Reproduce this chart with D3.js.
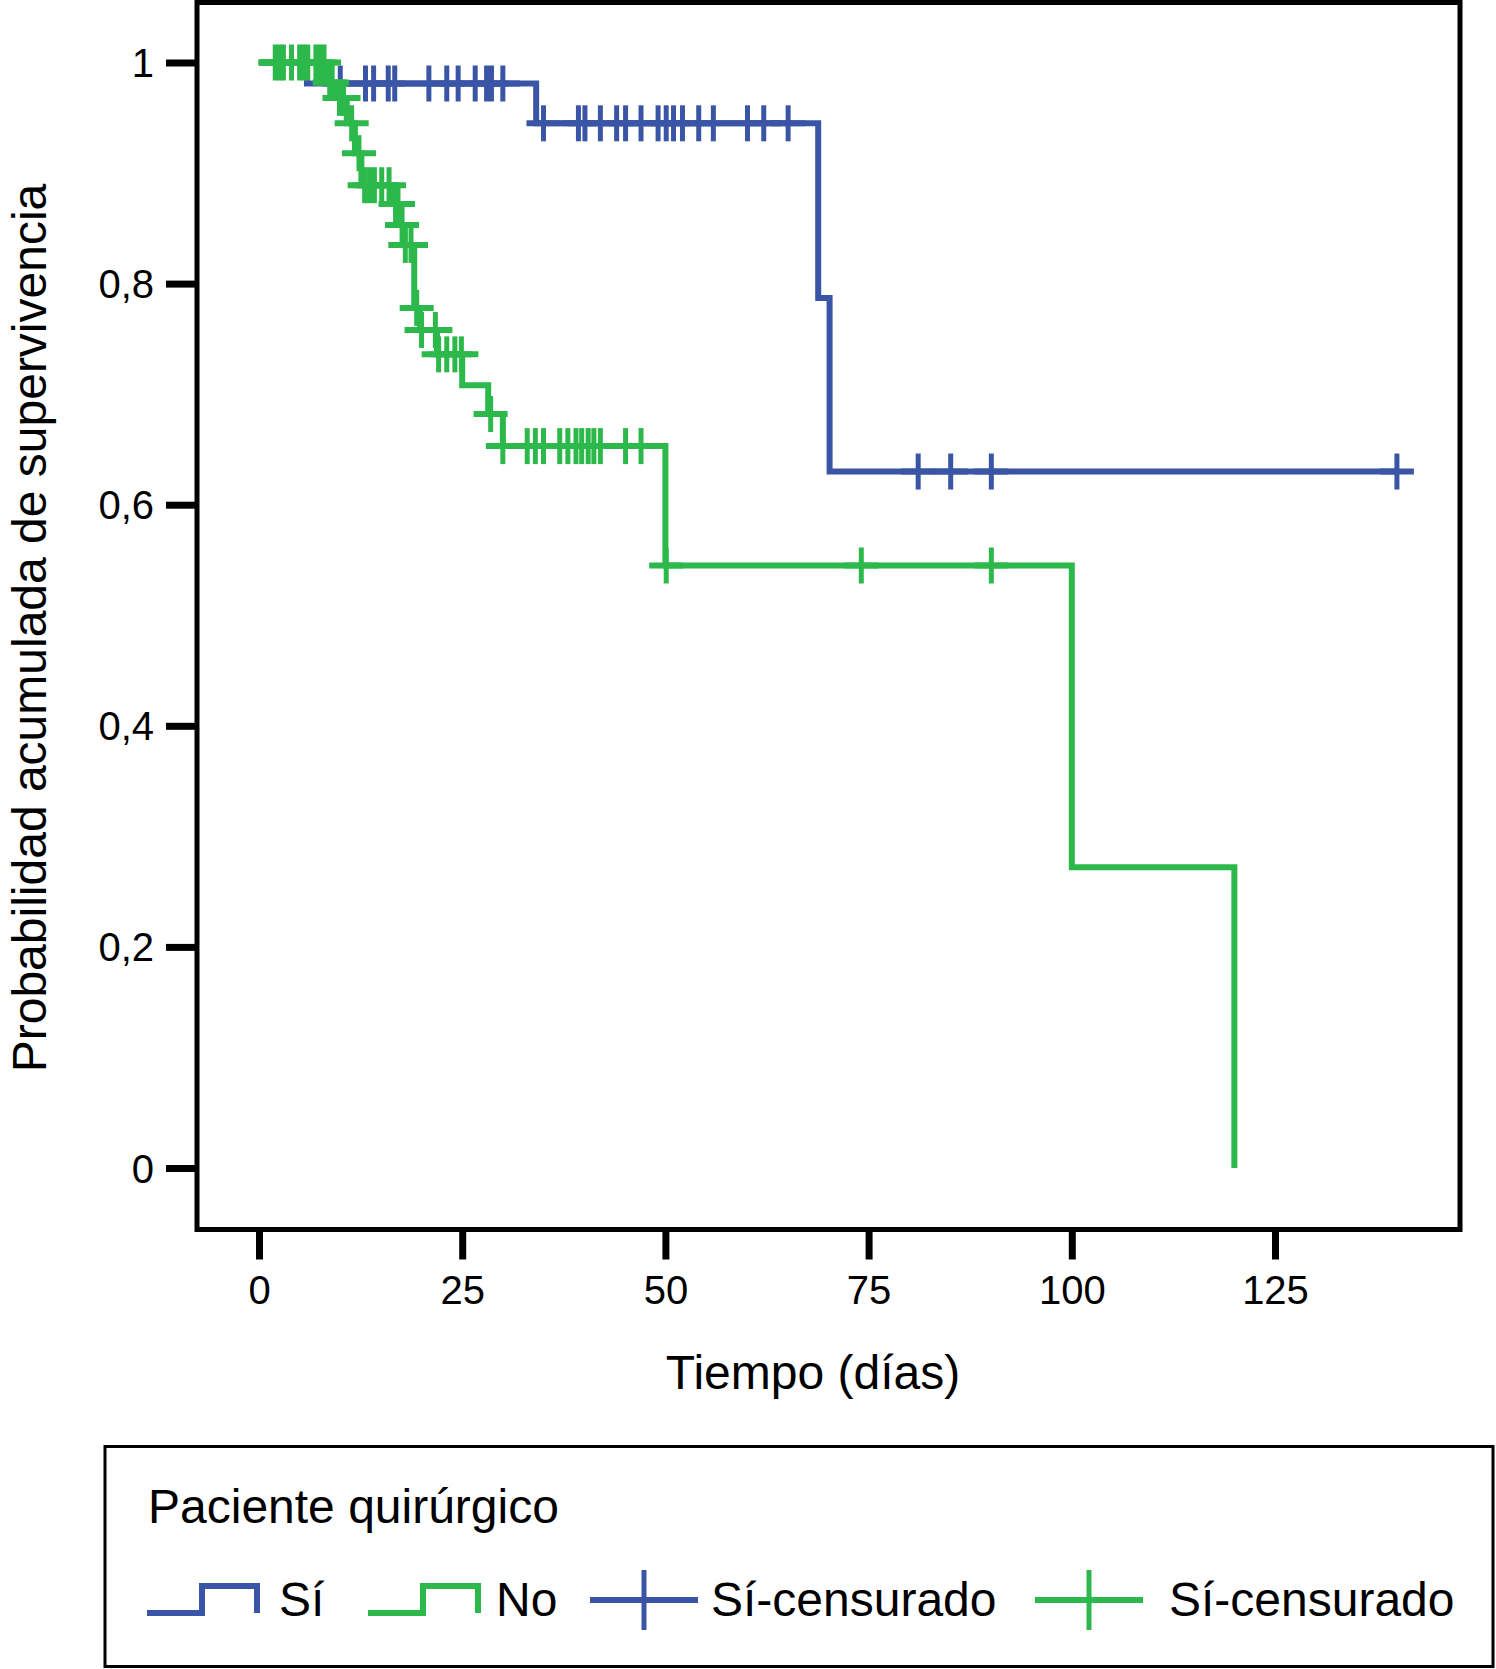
<!DOCTYPE html>
<html>
<head>
<meta charset="utf-8">
<script src="https://cdn.jsdelivr.net/npm/d3@7"></script>
<style>
  html, body { margin: 0; padding: 0; background: #fff; }
  svg { display: block; }
  text { font-family: "Liberation Sans", Arial, Helvetica, sans-serif; fill: #000; }
</style>
</head>
<body>
<svg id="chart" width="1496" height="1669"></svg>
<script>
// ---------- data ----------
const xTicks = [0, 25, 50, 75, 100, 125];
const xTickLabels = ["0", "25", "50", "75", "100", "125"];
const yTicks = [0, 0.2, 0.4, 0.6, 0.8, 1];
const yTickLabels = ["0", "0,2", "0,4", "0,6", "0,8", "1"];

// Group "Sí" (blue): step times and survival after each step
const siTimes = [0, 5.9, 34.1, 68.8, 70.2];
const siSurv  = [1, 0.981, 0.945, 0.787, 0.630];
const siCensor = [10.0, 13.1, 14.1, 15.9, 16.7, 20.9, 23.1, 24.5, 26.6, 28.0, 28.6, 30.0,
                  35.0, 39.3, 40.1, 42.0, 44.0, 45.1, 47.0, 49.1, 50.1, 51.0, 52.1, 54.1, 55.9, 60.1, 62.1, 65.1,
                  81.1, 85.1, 90.1, 140.0];

// Group "No" (green)
const noTimes = [0, 8.4, 9.4, 10.8, 11.8, 12.6, 16.5, 17.3, 17.9, 19.1, 19.8, 21.9, 25.0, 28.2, 30.0, 50.0, 100.0, 120.0];
const noSurv  = [1, 0.982, 0.968, 0.945, 0.918, 0.889, 0.872, 0.853, 0.835, 0.778, 0.758, 0.736, 0.708, 0.682, 0.653, 0.545, 0.272, 0];
const noCensor = [2.0, 2.5, 3.0, 4.0, 5.0, 5.5, 6.0, 7.0, 7.5, 8.0,
                  8.7, 9.0, 9.9, 10.4, 11.4, 12.3, 13.0, 13.6, 14.2, 15.1, 16.0, 16.8, 17.1, 17.6, 18.0, 18.7,
                  19.4, 20.0, 21.7, 22.1, 23.1, 24.1, 24.9, 28.5,
                  30.0, 33.0, 34.0, 35.0, 37.0, 38.0, 39.0, 39.7, 40.5, 41.2, 42.0, 45.1, 47.0,
                  50.1, 74.1, 90.1];

const legendTitle = "Paciente quirúrgico";
const legendItems = ["Sí", "No", "Sí-censurado", "Sí-censurado"];
const xTitle = "Tiempo (días)";
const yTitle = "Probabilidad acumulada de supervivencia";

// ---------- styles ----------
const BLUE = "#3a55a6";
const GREEN = "#2db84b";

const svg = d3.select("#chart");

const x = d3.scaleLinear().domain([0, 125]).range([259, 1275]);
const y = d3.scaleLinear().domain([0, 1]).range([1168, 62.5]);

// frame
const frame = { left: 197, top: 2.5, right: 1460, bottom: 1229.5 };
svg.append("rect")
  .attr("x", frame.left).attr("y", frame.top)
  .attr("width", frame.right - frame.left).attr("height", frame.bottom - frame.top)
  .attr("fill", "none").attr("stroke", "#000").attr("stroke-width", 5);

// axes
const xAxis = d3.axisBottom(x).tickValues(xTicks)
  .tickFormat((d, i) => xTickLabels[i]).tickSize(30).tickPadding(16);
const gx = svg.append("g").attr("transform", `translate(0,${frame.bottom})`).call(xAxis);
gx.select(".domain").remove();
gx.selectAll(".tick line").attr("stroke", "#000").attr("stroke-width", 7);
gx.selectAll(".tick text").attr("font-size", 40).attr("fill", "#000")
  .style("font-family", '"Liberation Sans", Arial, Helvetica, sans-serif');

const yAxis = d3.axisLeft(y).tickValues(yTicks)
  .tickFormat((d, i) => yTickLabels[i]).tickSize(31).tickPadding(12);
const gy = svg.append("g").attr("transform", `translate(${frame.left},0)`).call(yAxis);
gy.select(".domain").remove();
gy.selectAll(".tick line").attr("stroke", "#000").attr("stroke-width", 7);
gy.selectAll(".tick text").attr("font-size", 40).attr("fill", "#000").attr("dy", "0.35em")
  .style("font-family", '"Liberation Sans", Arial, Helvetica, sans-serif');

// titles
svg.append("text").attr("x", 813).attr("y", 1389)
  .attr("text-anchor", "middle").attr("font-size", 48).text(xTitle);
svg.append("text").attr("transform", "translate(46,628) rotate(-90)")
  .attr("text-anchor", "middle").attr("font-size", 48).text(yTitle);

// KM curves
function stepPath(times, surv, endTime) {
  let p = `M${x(times[0])},${y(surv[0])}`;
  for (let i = 1; i < times.length; i++) {
    p += `H${x(times[i])}V${y(surv[i])}`;
  }
  if (endTime !== undefined && endTime > times[times.length - 1]) p += `H${x(endTime)}`;
  return p;
}
function survAt(times, surv, t) {
  const i = d3.bisectRight(times, t) - 1;
  return surv[Math.max(0, i)];
}
const ARM_X = 17, ARM_Y = 18;
function drawCurve(times, surv, censor, color, endTime) {
  const g = svg.append("g");
  g.append("path").attr("d", stepPath(times, surv, endTime))
    .attr("fill", "none").attr("stroke", color).attr("stroke-width", 6)
    .attr("stroke-linejoin", "miter").attr("stroke-linecap", "butt");
  const marks = g.selectAll("g.cens").data(censor).join("g").attr("class", "cens")
    .attr("transform", d => `translate(${x(d)},${y(survAt(times, surv, d))})`);
  marks.append("line").attr("x1", -ARM_X).attr("x2", ARM_X).attr("y1", 0).attr("y2", 0)
    .attr("stroke", color).attr("stroke-width", 6);
  marks.append("line").attr("x1", 0).attr("x2", 0).attr("y1", -ARM_Y).attr("y2", ARM_Y)
    .attr("stroke", color).attr("stroke-width", 5);
}
drawCurve(siTimes, siSurv, siCensor, BLUE, d3.max(siCensor));
drawCurve(noTimes, noSurv, noCensor, GREEN);

// legend
svg.append("rect").attr("x", 105).attr("y", 1446.5).attr("width", 1388).attr("height", 220)
  .attr("fill", "none").attr("stroke", "#000").attr("stroke-width", 3);
svg.append("text").attr("x", 148).attr("y", 1523).attr("font-size", 48).text(legendTitle);

const ly = 1616;
function stepIcon(x0, color) {
  svg.append("path")
    .attr("d", `M${x0},${ly - 3}H${x0 + 55}V${ly - 30}H${x0 + 110}V${ly - 3}`)
    .attr("fill", "none").attr("stroke", color).attr("stroke-width", 6);
}
function crossIcon(cx, color) {
  svg.append("line").attr("x1", cx - 54).attr("x2", cx + 54).attr("y1", 1600).attr("y2", 1600)
    .attr("stroke", color).attr("stroke-width", 6);
  svg.append("line").attr("x1", cx).attr("x2", cx).attr("y1", 1570).attr("y2", 1630)
    .attr("stroke", color).attr("stroke-width", 5);
}
stepIcon(147, BLUE);
svg.append("text").attr("x", 279).attr("y", ly).attr("font-size", 48).text(legendItems[0]);
stepIcon(368, GREEN);
svg.append("text").attr("x", 496).attr("y", ly).attr("font-size", 48).text(legendItems[1]);
crossIcon(644, BLUE);
svg.append("text").attr("x", 711).attr("y", ly).attr("font-size", 48).text(legendItems[2]);
crossIcon(1089, GREEN);
svg.append("text").attr("x", 1169).attr("y", ly).attr("font-size", 48).text(legendItems[3]);
</script>
</body>
</html>
